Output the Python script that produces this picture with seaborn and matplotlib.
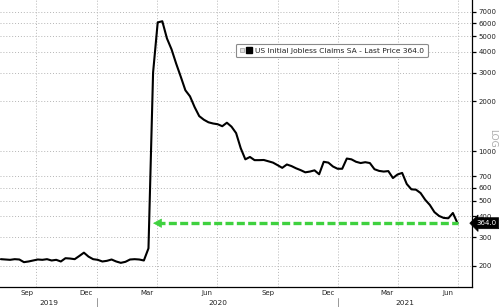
import matplotlib
matplotlib.use("Agg")
import matplotlib.pyplot as plt
import matplotlib.dates as mdates
import matplotlib.transforms as mtransforms
from matplotlib.lines import Line2D
from matplotlib.legend_handler import HandlerTuple
import seaborn as sns
import pandas as pd
import numpy as np

# ---- data (weekly release dates, thousands) ----
start_date = "2019-08-08"
n_weeks = 100
claims = [220, 219, 218, 220, 219, 211, 213, 216, 219, 218,
          220, 216, 218, 213, 223, 222, 220, 230, 241, 228,
          220, 218, 213, 215, 219, 213, 209, 212, 219, 220,
          219, 216, 256, 3000, 6050, 6150, 4840, 4150, 3400, 2830,
          2340, 2150, 1850, 1630, 1550, 1495, 1470, 1455, 1415, 1486,
          1406, 1285, 1040, 890, 920, 880, 880, 882, 866, 850,
          820, 790, 828, 810, 785, 765, 742, 750, 763, 722,
          860, 850, 805, 780, 780, 900, 890, 860, 845, 855,
          845, 775, 757, 750, 755, 685, 720, 736, 630, 585,
          582, 555, 505, 470, 425, 403, 392, 390, 420, 364]
ytick_values = [200, 300, 400, 500, 600, 700, 1000, 2000, 3000, 4000, 5000, 6000, 7000]
month_labels = ["Sep", "Dec", "Mar", "Jun"]
series_name = "US Initial Jobless Claims SA - Last Price"
last_label = "364.0"
spike_index = 33

dates = pd.date_range(start_date, periods=n_weeks, freq="7D")
df = pd.DataFrame({"date": dates, "claims": claims})

sns.set_style("white")
plt.rcParams["font.family"] = ["DejaVu Sans"]
txt_color = "#222222"
grid_color = "#b5b5b5"
green = "#3fd13f"

fig = plt.figure(figsize=(5.0, 3.07), dpi=100)
ax = fig.add_axes([0.0, 0.0651, 0.944, 0.9349])

sns.lineplot(data=df, x="date", y="claims", ax=ax, color="black", linewidth=1.5, legend=False)

ax.set_yscale("log")
ax.set_ylim(149, 8280)
xmin = pd.Timestamp("2019-08-06 16:00")
xmax = pd.Timestamp("2021-07-23")
ax.set_xlim(xmin, xmax)
ax.set_xlabel("")
ax.set_ylabel("")

# spines
for s in ["left", "top"]:
    ax.spines[s].set_visible(False)
for s in ["right", "bottom"]:
    ax.spines[s].set_visible(True)
    ax.spines[s].set_color("black")
    ax.spines[s].set_linewidth(0.9)

# y axis on right
ax.yaxis.tick_right()
ax.yaxis.set_major_locator(matplotlib.ticker.FixedLocator(ytick_values))
ax.yaxis.set_major_formatter(matplotlib.ticker.FuncFormatter(lambda v, p: f"{int(v)}"))
ax.yaxis.set_minor_locator(matplotlib.ticker.NullLocator())
ax.tick_params(axis="y", which="major", direction="out", length=3, width=0.9,
               color="black", labelsize=5, labelcolor=txt_color, pad=1.5, right=True, left=False)
for v in ytick_values:
    ax.axhline(v, color=grid_color, linestyle=(0, (1, 2)), linewidth=0.7, zorder=0)

# x axis: minor ticks at month starts, labels mid month
ax.xaxis.set_minor_locator(mdates.MonthLocator())
ax.xaxis.set_major_locator(mdates.MonthLocator(bymonth=(3, 6, 9, 12), bymonthday=16))
ax.xaxis.set_major_formatter(mdates.DateFormatter("%b"))
ax.tick_params(axis="x", which="major", length=0, labelsize=5, labelcolor=txt_color, pad=2)
ax.tick_params(axis="x", which="minor", direction="out", length=2.5, width=0.7, color="#444444")

qloc = mdates.MonthLocator(bymonth=(1, 4, 7, 10))
for t in qloc.tick_values(xmin, xmax):
    ax.axvline(t, color=grid_color, linestyle=(0, (1, 2)), linewidth=0.7, zorder=0)

# years
trans = mtransforms.blended_transform_factory(ax.transData, ax.transAxes)
x0n, x1n = mdates.date2num(xmin), mdates.date2num(xmax)
for yr in sorted(set(dates.year)):
    a = max(x0n, mdates.date2num(pd.Timestamp(f"{yr}-01-01")))
    b = min(x1n, mdates.date2num(pd.Timestamp(f"{yr + 1}-01-01")))
    ax.text((a + b) / 2, -0.056, str(yr), transform=trans, ha="center", va="center",
            fontsize=5.3, color=txt_color, clip_on=False)
    jan = mdates.date2num(pd.Timestamp(f"{yr}-01-01"))
    if x0n < jan < x1n:
        ax.plot([jan, jan], [-0.038, -0.075], transform=trans, color="#999999",
                linewidth=0.7, clip_on=False)

# green dashed arrow at last value
last_val = claims[-1]
ax.plot([dates[spike_index] + pd.Timedelta(days=6), dates[-1]], [last_val, last_val],
        color=green, linewidth=2.4, dashes=(2.4, 1.0), solid_capstyle="butt", zorder=3)
ax.annotate("", xy=(dates[spike_index], last_val),
            xytext=(dates[spike_index] + pd.Timedelta(days=12), last_val),
            arrowprops=dict(arrowstyle="-|>,head_length=0.55,head_width=0.3",
                            color=green, lw=0.5, shrinkA=0, shrinkB=0), zorder=3)

# last price tag
ytrans = mtransforms.blended_transform_factory(ax.transAxes, ax.transData)
ax.text(1.0085, last_val, last_label, transform=ytrans, ha="left", va="center",
        fontsize=5.0, color="white", clip_on=False,
        bbox=dict(boxstyle="larrow,pad=0.36", fc="black", ec="black", lw=0.5))

# legend
h = (Line2D([], [], marker="s", linestyle="none", markersize=3.2, markerfacecolor="#e0e0e0",
            markeredgecolor="#9a9a9a", markeredgewidth=0.5),
     Line2D([], [], marker="s", linestyle="none", markersize=4.6, color="black"))
leg = ax.legend([h], [f"{series_name} {last_label}"],
                handler_map={tuple: HandlerTuple(ndivide=None, pad=0.1)},
                loc="center", bbox_to_anchor=(0.703, 0.824), fontsize=5.4,
                frameon=True, fancybox=True, handlelength=1.6, handletextpad=0.45,
                borderpad=0.5, labelcolor=txt_color)
leg.get_frame().set_edgecolor("#8a8a8a")
leg.get_frame().set_linewidth(0.8)
leg.get_frame().set_facecolor("white")
leg.get_frame().set_alpha(1)

# LOG marker
fig.text(0.986, 0.55, "LOG", rotation=270, ha="center", va="center",
         fontsize=6.5, color="#aaaaaa")

fig.savefig("out.png", dpi=100)
